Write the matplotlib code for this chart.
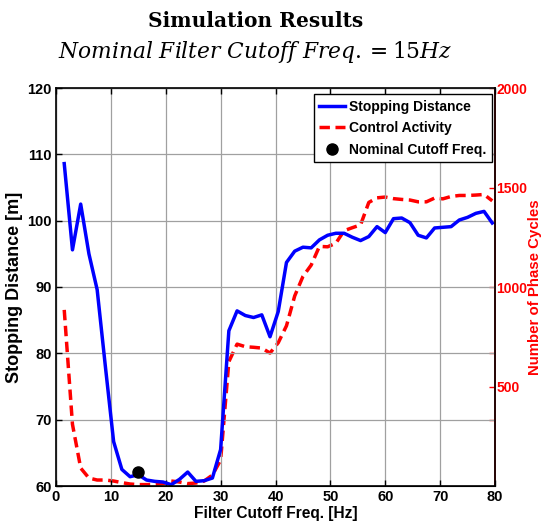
import matplotlib
matplotlib.use('Agg')
import matplotlib.pyplot as plt

plt.rcParams['font.family'] = ['Liberation Sans', 'DejaVu Sans']
plt.rcParams['mathtext.fontset'] = 'dejavuserif'

# filter cutoff frequencies [Hz]
freq = [1.5, 3, 4.5, 6, 7.5, 9, 10.5, 12, 13.5, 15, 16.5, 18, 19.5, 21, 22.5, 24,
        25.5, 27, 28.5, 30, 31.5, 33, 34.5, 36, 37.5, 39, 40.5, 42, 43.5, 45, 46.5,
        48, 49.5, 51, 52.5, 54, 55.5, 57, 58.5, 60, 61.5, 63, 64.5, 66, 67.5, 69,
        70.5, 72, 73.5, 75, 76.5, 78, 79.5]

# stopping distance [m]
stop_dist = [108.6, 95.6, 102.5, 95.0, 89.6, 78.0, 66.7, 62.5, 61.4, 61.7, 60.9, 60.7,
             60.6, 60.2, 61.0, 62.1, 60.7, 60.8, 61.2, 65.5, 83.4, 86.4, 85.7, 85.4,
             85.8, 82.5, 86.3, 93.7, 95.4, 96.0, 95.9, 97.1, 97.8, 98.1, 98.1, 97.5,
             97.0, 97.6, 99.1, 98.2, 100.3, 100.4, 99.7, 97.8, 97.4, 98.9, 99.0, 99.1,
             100.1, 100.5, 101.1, 101.4, 99.65]

# control activity (number of phase cycles)
phase_cycles = [885, 310, 90, 40, 30, 30, 25, 17, 10, 7, 7, 8, 12, 25, 20, 12, 15, 25,
                55, 130, 625, 713, 700, 697, 693, 668, 720, 805, 955, 1053, 1110, 1204,
                1202, 1220, 1283, 1298, 1312, 1425, 1448, 1452, 1444, 1440, 1437, 1428,
                1428, 1447, 1443, 1455, 1460, 1460, 1462, 1465, 1433]

nominal_freq = 15
nominal_dist = 62.1

fig = plt.figure(figsize=(5.45, 5.31), dpi=100)
ax = fig.add_axes([56 / 545, 1 - 486 / 531, 439 / 545, 398 / 531])
ax2 = ax.twinx()

l1, = ax.plot(freq, stop_dist, color='#0000ff', lw=2.5, label='Stopping Distance')
l2, = ax2.plot(freq, phase_cycles, color='#ff0000', lw=2.5, ls=(0, (3, 1.6)),
               label='Control Activity')
l3, = ax.plot([nominal_freq], [nominal_dist], 'o', color='black', ms=8,
              label='Nominal Cutoff Freq.')

ax.set_xlim(0, 80)
ax.set_ylim(60, 120)
ax2.set_ylim(0, 2000)
ax.set_xticks(range(0, 81, 10))
ax.set_yticks(range(60, 121, 10))
ax2.set_yticks([1000 / 3, 500, 2000 / 3, 1000, 4000 / 3, 1500, 5000 / 3, 2000])
ax2.set_yticklabels(['', '500', '', '1000', '', '1500', '', '2000'])

ax.grid(True, color='#a0a0a0', lw=0.9)
ax.tick_params(direction='in', top=True, length=4, width=1, labelsize=10.5, pad=3)
ax2.tick_params(direction='in', length=4, width=1, colors='red', labelsize=10, pad=1)
for lbl in ax.get_xticklabels() + ax.get_yticklabels() + ax2.get_yticklabels():
    lbl.set_fontweight('bold')
for s in ax.spines.values():
    s.set_linewidth(1.2)
ax2.spines['right'].set_color('red')
ax2.spines['right'].set_linewidth(1.2)

ax.set_xlabel('Filter Cutoff Freq. [Hz]', fontsize=11.2, fontweight='bold', labelpad=1)
ax.set_ylabel('Stopping Distance [m]', fontsize=13, fontweight='bold', labelpad=3)
ax2.set_ylabel('Number of Phase Cycles', fontsize=10.8, fontweight='bold', color='red',
               labelpad=0.5)

leg = ax.legend([l1, l2, l3], [l1.get_label(), l2.get_label(), l3.get_label()],
                loc='upper right', prop={'weight': 'bold', 'size': 10},
                fancybox=False, edgecolor='black', framealpha=1, handlelength=1.85,
                borderpad=0.4, labelspacing=0.55, handletextpad=0.3,
                borderaxespad=0, bbox_to_anchor=(0.993, 0.985))
leg.get_frame().set_linewidth(1.0)
ax.set_zorder(ax2.get_zorder() + 1)
ax.patch.set_visible(False)

fig.text(0.469, 0.960, 'Simulation Results', ha='center', va='center', fontsize=14.5,
         fontweight='bold', family='DejaVu Serif')
fig.text(0.469, 0.902, r'$Nominal\ Filter\ Cutoff\ Freq.=15Hz$', ha='center',
         va='center', fontsize=15.7)

fig.savefig('out.png', dpi=100)
